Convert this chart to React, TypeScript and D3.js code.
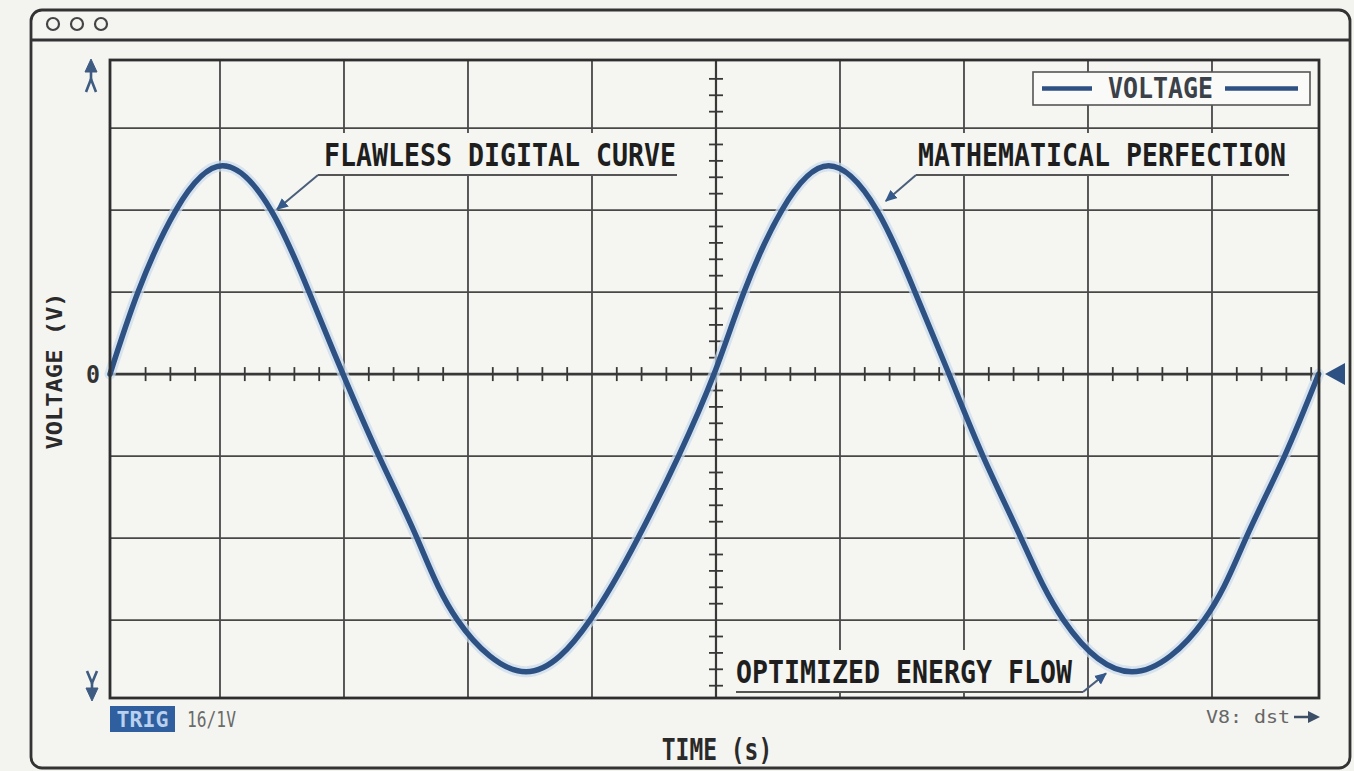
import * as d3 from "d3";

// trace: time in grid divisions, voltage in volts (1 div = 1 V)
const timeDiv = [
  -4.887, -4.661, -4.355, -3.98, -3.589, -3.282, -3.008, -2.718, -2.411, -2.084,
  -1.532, -1.016, -0.629, -0.302, -0.016, 0.226, 0.532, 0.908, 1.297, 1.605,
  1.879, 2.153, 2.46, 2.803, 3.355, 3.935, 4.274, 4.585, 4.86,
];
const voltage = [
  0, 1, 2, 2.54, 2, 1, 0, -1, -2, -3,
  -3.63, -3, -2, -1, 0, 1, 2, 2.54, 2, 1,
  0, -1, -2, -3, -3.63, -3, -2, -1, 0,
];

const gridTimes = [-4, -3, -2, -1, 1, 2, 3, 4];
const gridVolts = [-3, -2, -1, 1, 2, 3];
const yTickLabels = ["0"];

const annoTexts = ["FLAWLESS DIGITAL CURVE", "MATHEMATICAL PERFECTION", "OPTIMIZED ENERGY FLOW"];
const annoTipT = [-3.54, 1.37, 3.145];
const annoTipV = [2.01, 2.11, -3.65];

const legendLabel = "VOLTAGE";
const xTitle = "TIME (s)";
const yTitle = "VOLTAGE (V)";
const trigLabel = "TRIG";
const scaleLabel = "16/1V";
const statusLabel = "V8: dst";

const W = 1354;
const H = 771;
const plot = { left: 110, right: 1319, top: 60, bottom: 698 };

const bg = "#f3f3ef";
const frame = "#333";
const grid = "#484848";
const trace = "#2e5183";
const mono = "'DejaVu Sans Mono', 'Liberation Mono', monospace";
const MONO_ADV = 0.602; // DejaVu Sans Mono advance per em

// where each annotation's label sits (elbow of the leader, underline end, text start)
const annoLayout = [
  { elbowX: 318, lineY: 175, endX: 677, textX: 324 },
  { elbowX: 916, lineY: 175, endX: 1289, textX: 918 },
  { elbowX: 1083, lineY: 692, endX: 736, textX: 736 },
];

// condensed mono text: squeeze horizontally to a given per-char width
function CondText({
  x,
  y,
  text,
  size,
  charW,
  fill,
  bold = false,
  anchor = "start",
  rotate = 0,
}: {
  x: number;
  y: number;
  text: string;
  size: number;
  charW: number;
  fill: string;
  bold?: boolean;
  anchor?: string;
  rotate?: number;
}) {
  const sx = charW / (MONO_ADV * size);
  return (
    <text
      transform={`translate(${x},${y}) rotate(${rotate}) scale(${sx},1)`}
      textAnchor={anchor}
      fontFamily={mono}
      fontSize={size}
      fontWeight={bold ? "bold" : "normal"}
      fill={fill}
    >
      {text}
    </text>
  );
}

export default function App() {
  const x = d3.scaleLinear().domain([-4.887, 4.863]).range([plot.left, plot.right]);
  const y = d3.scaleLinear().domain([-3.95, 3.83]).range([plot.bottom, plot.top]);

  const line = d3
    .line<number>()
    .x((d, i) => x(timeDiv[i]))
    .y((d) => y(d))
    .curve(d3.curveNatural);
  const path = line(voltage) || "";

  // minor ticks every 1/5 division, skipping the major grid
  const xMinor = d3.range(-23, 25).filter((k) => k % 5 !== 0).map((k) => k / 5);
  const yMinor = d3.range(-19, 19).filter((k) => k % 5 !== 0).map((k) => k / 5);

  const x0 = x(0);
  const y0 = y(0);

  return (
    <svg
      width={W}
      height={H}
      style={{ position: "absolute", left: 0, top: 0, background: bg }}
    >
      <defs>
        <marker
          id="tip"
          viewBox="0 0 10 10"
          refX="9"
          refY="5"
          markerWidth="12"
          markerHeight="12"
          markerUnits="userSpaceOnUse"
          orient="auto"
        >
          <path d="M0,0.5 L10,5 L0,9.5 z" fill="#34598a" />
        </marker>
      </defs>
      <rect x={0} y={0} width={W} height={H} fill={bg} />

      {/* window chrome */}
      <rect x={31} y={10} width={1319} height={758} rx={11} fill="#f4f4f0" stroke={frame} strokeWidth={2.8} />
      <line x1={31} x2={1350} y1={40} y2={40} stroke={frame} strokeWidth={2.8} />
      {[53, 77, 101].map((cx) => (
        <circle key={cx} cx={cx} cy={24} r={6} fill="none" stroke="#444" strokeWidth={2.2} />
      ))}

      {/* plot area */}
      <rect
        x={plot.left}
        y={plot.top}
        width={plot.right - plot.left}
        height={plot.bottom - plot.top}
        fill="#f5f5f2"
      />
      {gridTimes.map((t) => (
        <line key={"gx" + t} x1={x(t)} x2={x(t)} y1={plot.top} y2={plot.bottom} stroke={grid} strokeWidth={1.8} />
      ))}
      {gridVolts.map((v) => (
        <line key={"gy" + v} x1={plot.left} x2={plot.right} y1={y(v)} y2={y(v)} stroke={grid} strokeWidth={1.8} />
      ))}

      {/* center axes with graticule ticks */}
      <line x1={plot.left} x2={plot.right} y1={y0} y2={y0} stroke="#383838" strokeWidth={2.6} />
      <line x1={x0} x2={x0} y1={plot.top} y2={plot.bottom} stroke="#383838" strokeWidth={2.2} />
      {xMinor.map((t) => (
        <line key={"tx" + t} x1={x(t)} x2={x(t)} y1={y0 - 7} y2={y0 + 7} stroke="#383838" strokeWidth={1.8} />
      ))}
      {yMinor.map((v) => (
        <line key={"ty" + v} x1={x0 - 7} x2={x0 + 7} y1={y(v)} y2={y(v)} stroke="#383838" strokeWidth={1.8} />
      ))}

      {/* trace */}
      <path d={path} fill="none" stroke="#c9dbee" strokeWidth={11} strokeOpacity={0.7} strokeLinecap="round" />
      <path d={path} fill="none" stroke={trace} strokeWidth={5.5} strokeLinecap="round" strokeLinejoin="round" />

      {/* annotations */}
      {annoTexts.map((txt, i) => {
        const L = annoLayout[i];
        const tx = x(annoTipT[i]);
        const ty = y(annoTipV[i]);
        const x1 = Math.min(L.elbowX, L.endX);
        const x2 = Math.max(L.elbowX, L.endX);
        return (
          <g key={txt}>
            <rect x={x1} y={L.lineY - 42} width={x2 - x1} height={41} fill="#f5f5f2" />
            <CondText x={L.textX} y={L.lineY - 9} text={txt} size={32} charW={16} fill="#1e1e1e" bold />
            <line x1={x1} x2={x2} y1={L.lineY} y2={L.lineY} stroke="#555" strokeWidth={2} />
            <line
              x1={L.elbowX}
              y1={L.lineY}
              x2={tx}
              y2={ty}
              stroke="#4a5e7a"
              strokeWidth={2}
              markerEnd="url(#tip)"
            />
          </g>
        );
      })}

      {/* legend */}
      <rect x={1033} y={72} width={277} height={33} fill="#fafaf8" stroke="#555" strokeWidth={1.6} />
      <line x1={1042} x2={1092} y1={88.5} y2={88.5} stroke={trace} strokeWidth={4.5} />
      <line x1={1225} x2={1298} y1={88.5} y2={88.5} stroke={trace} strokeWidth={4.5} />
      <CondText x={1108} y={98} text={legendLabel} size={29} charW={15} fill="#3b4148" bold />

      {/* vertical range arrows */}
      <g fill="#3e5b82" stroke="#3e5b82" strokeWidth={2.6}>
        <polygon points="91,59 85,72 97,72" strokeWidth={1} />
        <line x1={91} x2={91} y1={72} y2={80} />
        <path d="M86,92 L91,79 L96,92" fill="none" />
        <path d="M87,671 L92,683 L97,671" fill="none" />
        <line x1={92} x2={92} y1={683} y2={690} />
        <polygon points="86,688 98,688 92,701" strokeWidth={1} />
      </g>
      <polygon points={`1325,${y0} 1345,${y0 - 11} 1345,${y0 + 11}`} fill={trace} />

      {/* axis labels */}
      <CondText x={93} y={y0 + 9} text={yTickLabels[0]} size={24} charW={14} fill="#333" bold anchor="middle" />
      <CondText x={62} y={371} text={yTitle} size={22} charW={14.3} fill="#2a2a2a" bold anchor="middle" rotate={-90} />
      <CondText x={717} y={760} text={xTitle} size={30} charW={13.8} fill="#2a2a2a" bold anchor="middle" />

      {/* status bar */}
      <rect x={110} y={706} width={65} height={26} fill="#2f5f9e" />
      <CondText x={142.5} y={727} text={trigLabel} size={21} charW={13} fill="#b9d0ee" bold anchor="middle" />
      <CondText x={187} y={727} text={scaleLabel} size={21} charW={9.8} fill="#6a6a6a" />
      <CondText x={1206} y={723} text={statusLabel} size={18} charW={12} fill="#666" />
      <line x1={1294} x2={1310} y1={717} y2={717} stroke="#3d4f66" strokeWidth={2.5} />
      <polygon points="1320,717 1308,711 1308,723" fill="#3d4f66" />

      {/* plot border on top */}
      <rect
        x={plot.left}
        y={plot.top}
        width={plot.right - plot.left}
        height={plot.bottom - plot.top}
        fill="none"
        stroke="#2e2e2e"
        strokeWidth={2.8}
      />
    </svg>
  );
}
